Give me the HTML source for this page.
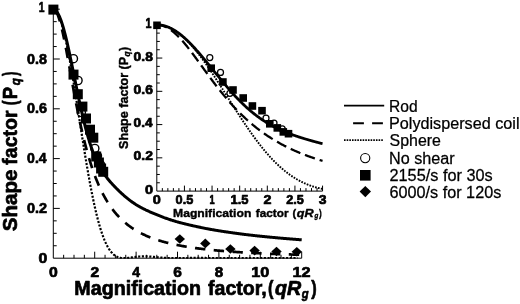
<!DOCTYPE html>
<html><head><meta charset="utf-8"><title>Shape factor</title>
<style>html,body{margin:0;padding:0;background:#fff}svg{display:block}</style></head>
<body>
<svg width="520" height="304" viewBox="0 0 520 304">
<rect width="520" height="304" fill="#fff"/>
<g stroke="#000" stroke-width="1" fill="none" stroke-linecap="butt">
<path d="M53.30,9.20 V258.20 H301.70"/>
<path d="M63.65,258.20v-3.4M74.00,258.20v-3.4M84.35,258.20v-3.4M94.70,258.20v-6.5M105.05,258.20v-3.4M115.40,258.20v-3.4M125.75,258.20v-3.4M136.10,258.20v-6.5M146.45,258.20v-3.4M156.80,258.20v-3.4M167.15,258.20v-3.4M177.50,258.20v-6.5M187.85,258.20v-3.4M198.20,258.20v-3.4M208.55,258.20v-3.4M218.90,258.20v-6.5M229.25,258.20v-3.4M239.60,258.20v-3.4M249.95,258.20v-3.4M260.30,258.20v-6.5M270.65,258.20v-3.4M281.00,258.20v-3.4M291.35,258.20v-3.4M301.70,258.20v-6.5M53.30,245.75h3.4M53.30,233.30h3.4M53.30,220.85h3.4M53.30,208.40h6.5M53.30,195.95h3.4M53.30,183.50h3.4M53.30,171.05h3.4M53.30,158.60h6.5M53.30,146.15h3.4M53.30,133.70h3.4M53.30,121.25h3.4M53.30,108.80h6.5M53.30,96.35h3.4M53.30,83.90h3.4M53.30,71.45h3.4M53.30,59.00h6.5M53.30,46.55h3.4M53.30,34.10h3.4M53.30,21.65h3.4M53.30,9.20h6.5"/>
</g>
<g stroke="#000" stroke-width="1" fill="none" stroke-linecap="butt">
<path d="M156.80,24.80 V191.10 H322.55"/>
<path d="M162.33,191.10v-3M167.85,191.10v-3M173.38,191.10v-3M178.90,191.10v-3M184.43,191.10v-5.5M189.95,191.10v-3M195.48,191.10v-3M201.00,191.10v-3M206.53,191.10v-3M212.05,191.10v-5.5M217.58,191.10v-3M223.10,191.10v-3M228.62,191.10v-3M234.15,191.10v-3M239.68,191.10v-5.5M245.20,191.10v-3M250.73,191.10v-3M256.25,191.10v-3M261.78,191.10v-3M267.30,191.10v-5.5M272.83,191.10v-3M278.35,191.10v-3M283.88,191.10v-3M289.40,191.10v-3M294.93,191.10v-5.5M300.45,191.10v-3M305.98,191.10v-3M311.50,191.10v-3M317.03,191.10v-3M322.55,191.10v-5.5M156.80,182.78h3M156.80,174.47h3M156.80,166.16h3M156.80,157.84h5.5M156.80,149.52h3M156.80,141.21h3M156.80,132.89h3M156.80,124.58h5.5M156.80,116.26h3M156.80,107.95h3M156.80,99.63h3M156.80,91.32h5.5M156.80,83.00h3M156.80,74.69h3M156.80,66.37h3M156.80,58.06h5.5M156.80,49.74h3M156.80,41.43h3M156.80,33.11h3M156.80,24.80h5.5"/>
</g>
<defs><clipPath id="cm"><rect x="51.3" y="0" width="250.89999999999998" height="258.7"/></clipPath><clipPath id="ci"><rect x="154.8" y="0" width="168.25" height="191.6"/></clipPath></defs>
<g fill="none" stroke="#000" clip-path="url(#cm)">
<path d="M53.00,9.20 L53.20,9.21 L53.41,9.23 L53.61,9.27 L53.82,9.33 L54.02,9.41 L54.22,9.50 L54.43,9.61 L54.63,9.73 L54.84,9.87 L55.04,10.03 L55.24,10.20 L55.45,10.39 L55.65,10.60 L55.86,10.82 L56.06,11.06 L56.27,11.32 L56.47,11.59 L56.67,11.88 L56.88,12.19 L57.08,12.51 L57.29,12.84 L57.49,13.20 L57.69,13.56 L57.90,13.95 L58.10,14.35 L58.31,14.77 L58.51,15.20 L58.71,15.65 L58.92,16.11 L59.12,16.59 L59.33,17.08 L59.53,17.59 L59.73,18.11 L59.94,18.65 L60.14,19.21 L60.35,19.78 L60.55,20.36 L60.75,20.96 L60.96,21.57 L61.16,22.20 L61.37,22.84 L61.57,23.50 L61.77,24.17 L61.98,24.86 L62.18,25.56 L62.39,26.27 L62.59,27.00 L62.80,27.74 L63.00,28.49 L63.20,29.26 L63.41,30.04 L63.61,30.83 L63.82,31.64 L64.02,32.46 L64.22,33.29 L64.43,34.13 L64.63,34.99 L64.84,35.86 L65.04,36.74 L65.24,37.63 L65.45,38.54 L65.65,39.46 L65.86,40.38 L66.06,41.32 L66.26,42.27 L66.47,43.24 L66.67,44.21 L66.88,45.19 L67.08,46.19 L67.28,47.19 L67.49,48.21 L67.69,49.23 L67.90,50.27 L68.10,51.32 L68.30,52.37 L68.51,53.43 L68.71,54.51 L68.92,55.59 L69.12,56.68 L69.33,57.78 L69.53,58.89 L69.73,60.01 L69.94,61.14 L70.14,62.27 L70.35,63.41 L70.55,64.56 L70.75,65.72 L70.96,66.88 L71.16,68.06 L71.37,69.24 L71.57,70.42 L71.77,71.61 L71.98,72.81 L72.18,74.02 L72.39,75.23 L72.59,76.45 L72.79,77.67 L73.00,78.90 L73.20,80.13 L73.41,81.37 L73.61,82.62 L73.81,83.86 L74.02,85.12 L74.22,86.38 L74.43,87.64 L74.63,88.91 L74.83,90.18 L75.04,91.45 L75.24,92.73 L75.45,94.01 L75.65,95.29 L75.86,96.58 L76.06,97.87 L76.26,99.16 L76.47,100.46 L76.67,101.75 L76.88,103.05 L77.08,104.36 L77.28,105.66 L77.49,106.96 L77.69,108.27 L77.90,109.58 L78.10,110.88 L78.30,112.19 L78.51,113.50 L78.71,114.81 L78.92,116.12 L79.12,117.43 L79.32,118.74 L79.53,120.05 L79.73,121.36 L79.94,122.67 L80.14,123.98 L80.34,125.29 L80.55,126.59 L80.75,127.90 L80.96,129.20 L81.16,130.51 L81.37,131.81 L81.57,133.11 L81.77,134.40 L81.98,135.70 L82.18,136.99 L82.39,138.28 L82.59,139.57 L82.79,140.85 L83.00,142.13 L83.20,143.41 L83.41,144.68 L83.61,145.95 L83.81,147.22 L84.02,148.49 L84.22,149.75 L84.43,151.00 L84.63,152.26 L84.83,153.50 L85.04,154.75 L85.24,155.99 L85.45,157.22 L85.65,158.45 L85.85,159.67 L86.06,160.89 L86.26,162.11 L86.47,163.32 L86.67,164.52 L86.87,165.72 L87.08,166.91 L87.28,168.10 L87.49,169.28 L87.69,170.45 L87.90,171.62 L88.10,172.78 L88.30,173.94 L88.51,175.09 L88.71,176.23 L88.92,177.37 L89.12,178.50 L89.32,179.62 L89.53,180.74 L89.73,181.85 L89.94,182.95 L90.14,184.05 L90.34,185.13 L90.55,186.21 L90.75,187.29 L90.96,188.35 L91.16,189.41 L91.36,190.46 L91.57,191.50 L91.77,192.54 L91.98,193.57 L92.18,194.58 L92.38,195.60 L92.59,196.60 L92.79,197.59 L93.00,198.58 L93.20,199.56 L93.40,200.53 L93.61,201.49 L93.81,202.44 L94.02,203.39 L94.22,204.32 L94.43,205.25 L94.63,206.17 L94.83,207.08 L95.04,207.98 L95.24,208.88 L95.45,209.76 L95.65,210.64 L95.85,211.50 L96.06,212.36 L96.26,213.21 L96.47,214.05 L96.67,214.88 L96.87,215.71 L97.08,216.52 L97.28,217.33 L97.49,218.12 L97.69,218.91 L97.89,219.69 L98.10,220.46 L98.30,221.22 L98.51,221.97 L98.71,222.71 L98.91,223.44 L99.12,224.17 L99.32,224.88 L99.53,225.59 L99.73,226.29 L99.93,226.97 L100.14,227.65 L100.34,228.32 L100.55,228.98 L100.75,229.64 L100.96,230.28 L101.16,230.92 L101.36,231.54 L101.57,232.16 L101.77,232.77 L101.98,233.37 L102.18,233.96 L102.38,234.54 L102.59,235.11 L102.79,235.68 L103.00,236.23 L103.20,236.78 L103.40,237.32 L103.61,237.85 L103.81,238.37 L104.02,238.88 L104.22,239.39 L104.42,239.89 L104.63,240.37 L104.83,240.85 L105.04,241.33 L105.24,241.79 L105.44,242.25 L105.65,242.69 L105.85,243.13 L106.06,243.56 L106.26,243.99 L106.47,244.40 L106.67,244.81 L106.87,245.21 L107.08,245.60 L107.28,245.99 L107.49,246.36 L107.69,246.73 L107.89,247.10 L108.10,247.45 L108.30,247.80 L108.51,248.14 L108.71,248.47 L108.91,248.80 L109.12,249.11 L109.32,249.43 L109.53,249.73 L109.73,250.03 L109.93,250.32 L110.14,250.60 L110.34,250.88 L110.55,251.15 L110.75,251.42 L110.95,251.67 L111.16,251.93 L111.36,252.17 L111.57,252.41 L111.77,252.64 L111.97,252.87 L112.18,253.09 L112.38,253.31 L112.59,253.51 L112.79,253.72 L113.00,253.92 L113.20,254.11 L113.40,254.29 L113.61,254.47 L113.81,254.65 L114.02,254.82 L114.22,254.98 L114.42,255.14 L114.63,255.30 L114.83,255.45 L115.04,255.59 L115.24,255.73 L115.44,255.87 L115.65,256.00 L115.85,256.12 L116.06,256.24 L116.26,256.36 L116.46,256.47 L116.67,256.58 L116.87,256.68 L117.08,256.78 L117.28,256.88 L117.48,256.97 L117.69,257.06 L117.89,257.14 L118.10,257.22 L118.30,257.29 L118.50,257.37 L118.71,257.44 L118.91,257.50 L119.12,257.56 L119.32,257.62 L119.53,257.68 L119.73,257.73 L119.93,257.78 L120.14,257.82 L120.34,257.86 L120.55,257.90 L120.75,257.94 L120.95,257.98 L121.16,258.01 L121.36,258.04 L121.57,258.06 L121.77,258.09 L121.97,258.11 L122.18,258.13 L122.38,258.14 L122.59,258.16 L122.79,258.17 L122.99,258.18 L123.20,258.19 L123.40,258.19 L123.61,258.20 L123.81,258.20 L124.01,258.20 L124.22,258.20 L124.42,258.20 L124.63,258.19 L124.83,258.19 L125.03,258.18 L125.24,258.17 L125.44,258.16 L125.65,258.15 L125.85,258.13 L126.06,258.12 L126.26,258.10 L126.46,258.09 L126.67,258.07 L126.87,258.05 L127.08,258.03 L127.28,258.01 L127.48,257.99 L127.69,257.97 L127.89,257.94 L128.10,257.92 L128.30,257.90 L128.50,257.87 L128.71,257.85 L128.91,257.82 L129.12,257.79 L129.32,257.77 L129.52,257.74 L129.73,257.71 L129.93,257.68 L130.14,257.65 L130.34,257.62 L130.54,257.60 L130.75,257.57 L130.95,257.54 L131.16,257.51 L131.36,257.48 L131.57,257.45 L131.77,257.42 L131.97,257.39 L132.18,257.36 L132.38,257.33 L132.59,257.30 L132.79,257.27 L132.99,257.24 L133.20,257.21 L133.40,257.18 L133.61,257.15 L133.81,257.13 L134.01,257.10 L134.22,257.07 L134.42,257.04 L134.63,257.02 L134.83,256.99 L135.03,256.96 L135.24,256.94 L135.44,256.91 L135.65,256.89 L135.85,256.86 L136.05,256.84 L136.26,256.81 L136.46,256.79 L136.67,256.77 L136.87,256.74 L137.07,256.72 L137.28,256.70 L137.48,256.68 L137.69,256.66 L137.89,256.64 L138.10,256.62 L138.30,256.60 L138.50,256.59 L138.71,256.57 L138.91,256.55 L139.12,256.54 L139.32,256.52 L139.52,256.51 L139.73,256.49 L139.93,256.48 L140.14,256.47 L140.34,256.46 L140.54,256.44 L140.75,256.43 L140.95,256.42 L141.16,256.41 L141.36,256.41 L141.56,256.40 L141.77,256.39 L141.97,256.38 L142.18,256.38 L142.38,256.37 L142.58,256.37 L142.79,256.36 L142.99,256.36 L143.20,256.36 L143.40,256.35 L143.60,256.35 L143.81,256.35 L144.01,256.35 L144.22,256.35 L144.42,256.35 L144.63,256.35 L144.83,256.36 L145.03,256.36 L145.24,256.36 L145.44,256.37 L145.65,256.37 L145.85,256.37 L146.05,256.38 L146.26,256.39 L146.46,256.39 L146.67,256.40 L146.87,256.41 L147.07,256.42 L147.28,256.42 L147.48,256.43 L147.69,256.44 L147.89,256.45 L148.09,256.46 L148.30,256.48 L148.50,256.49 L148.71,256.50 L148.91,256.51 L149.11,256.52 L149.32,256.54 L149.52,256.55 L149.73,256.56 L149.93,256.58 L150.13,256.59 L150.34,256.61 L150.54,256.62 L150.75,256.64 L150.95,256.66 L151.16,256.67 L151.36,256.69 L151.56,256.71 L151.77,256.72 L151.97,256.74 L152.18,256.76 L152.38,256.77 L152.58,256.79 L152.79,256.81 L152.99,256.83 L153.20,256.85 L153.40,256.87 L153.60,256.89 L153.81,256.90 L154.01,256.92 L154.22,256.94 L154.42,256.96 L154.62,256.98 L154.83,257.00 L155.03,257.02 L155.24,257.04 L155.44,257.06 L155.64,257.08 L155.85,257.10 L156.05,257.12 L156.26,257.14 L156.46,257.16 L156.67,257.18 L156.87,257.20 L157.07,257.22 L157.28,257.24 L157.48,257.26 L157.69,257.28 L157.89,257.30 L158.09,257.32 L158.30,257.34 L158.50,257.36 L158.71,257.38 L158.91,257.40 L159.11,257.42 L159.32,257.44 L159.52,257.46 L159.73,257.47 L159.93,257.49 L160.13,257.51 L160.34,257.53 L160.54,257.55 L160.75,257.57 L160.95,257.58 L161.15,257.60 L161.36,257.62 L161.56,257.64 L161.77,257.65 L161.97,257.67 L162.17,257.69 L162.38,257.70 L162.58,257.72 L162.79,257.74 L162.99,257.75 L163.20,257.77 L163.40,257.78 L163.60,257.80 L163.81,257.81 L164.01,257.83 L164.22,257.84 L164.42,257.85 L164.62,257.87 L164.83,257.88 L165.03,257.89 L165.24,257.91 L165.44,257.92 L165.64,257.93 L165.85,257.94 L166.05,257.96 L166.26,257.97 L166.46,257.98 L166.66,257.99 L166.87,258.00 L167.07,258.01 L167.28,258.02 L167.48,258.03 L167.68,258.04 L167.89,258.05 L168.09,258.06 L168.30,258.07 L168.50,258.08 L168.70,258.08 L168.91,258.09 L169.11,258.10 L169.32,258.11 L169.52,258.11 L169.73,258.12 L169.93,258.13 L170.13,258.13 L170.34,258.14 L170.54,258.14 L170.75,258.15 L170.95,258.15 L171.15,258.16 L171.36,258.16 L171.56,258.17 L171.77,258.17 L171.97,258.17 L172.17,258.18 L172.38,258.18 L172.58,258.18 L172.79,258.19 L172.99,258.19 L173.19,258.19 L173.40,258.19 L173.60,258.19 L173.81,258.20 L174.01,258.20 L174.21,258.20 L174.42,258.20 L174.62,258.20 L174.83,258.20 L175.03,258.20 L175.23,258.20 L175.44,258.20 L175.64,258.20 L175.85,258.20 L176.05,258.20 L176.26,258.20 L176.46,258.20 L176.66,258.19 L176.87,258.19 L177.07,258.19 L177.28,258.19 L177.48,258.19 L177.68,258.18 L177.89,258.18 L178.09,258.18 L178.30,258.18 L178.50,258.17 L178.70,258.17 L178.91,258.17 L179.11,258.16 L179.32,258.16 L179.52,258.16 L179.72,258.15 L179.93,258.15 L180.13,258.15 L180.34,258.14 L180.54,258.14 L180.74,258.13 L180.95,258.13 L181.15,258.13 L181.36,258.12 L181.56,258.12 L181.77,258.11 L181.97,258.11 L182.17,258.11 L182.38,258.10 L182.58,258.10 L182.79,258.09 L182.99,258.09 L183.19,258.08 L183.40,258.08 L183.60,258.07 L183.81,258.07 L184.01,258.06 L184.21,258.06 L184.42,258.05 L184.62,258.05 L184.83,258.05 L185.03,258.04 L185.23,258.04 L185.44,258.03 L185.64,258.03 L185.85,258.02 L186.05,258.02 L186.25,258.01 L186.46,258.01 L186.66,258.00 L186.87,258.00 L187.07,258.00 L187.27,257.99 L187.48,257.99 L187.68,257.98 L187.89,257.98 L188.09,257.97 L188.30,257.97 L188.50,257.97 L188.70,257.96 L188.91,257.96 L189.11,257.96 L189.32,257.95 L189.52,257.95 L189.72,257.94 L189.93,257.94 L190.13,257.94 L190.34,257.93 L190.54,257.93 L190.74,257.93 L190.95,257.93 L191.15,257.92 L191.36,257.92 L191.56,257.92 L191.76,257.91 L191.97,257.91 L192.17,257.91 L192.38,257.91 L192.58,257.91 L192.78,257.90 L192.99,257.90 L193.19,257.90 L193.40,257.90 L193.60,257.90 L193.80,257.89 L194.01,257.89 L194.21,257.89 L194.42,257.89 L194.62,257.89 L194.83,257.89 L195.03,257.89 L195.23,257.89 L195.44,257.89 L195.64,257.89 L195.85,257.89 L196.05,257.88 L196.25,257.88 L196.46,257.88 L196.66,257.88 L196.87,257.88 L197.07,257.88 L197.27,257.88 L197.48,257.89 L197.68,257.89 L197.89,257.89 L198.09,257.89 L198.29,257.89 L198.50,257.89 L198.70,257.89 L198.91,257.89 L199.11,257.89 L199.31,257.89 L199.52,257.89 L199.72,257.90 L199.93,257.90 L200.13,257.90 L200.33,257.90 L200.54,257.90 L200.74,257.90 L200.95,257.91 L201.15,257.91 L201.36,257.91 L201.56,257.91 L201.76,257.91 L201.97,257.92 L202.17,257.92 L202.38,257.92 L202.58,257.92 L202.78,257.93 L202.99,257.93 L203.19,257.93 L203.40,257.94 L203.60,257.94 L203.80,257.94 L204.01,257.94 L204.21,257.95 L204.42,257.95 L204.62,257.95 L204.82,257.96 L205.03,257.96 L205.23,257.96 L205.44,257.97 L205.64,257.97 L205.84,257.97 L206.05,257.98 L206.25,257.98 L206.46,257.98 L206.66,257.99 L206.87,257.99 L207.07,257.99 L207.27,258.00 L207.48,258.00 L207.68,258.00 L207.89,258.01 L208.09,258.01 L208.29,258.02 L208.50,258.02 L208.70,258.02 L208.91,258.03 L209.11,258.03 L209.31,258.03 L209.52,258.04 L209.72,258.04 L209.93,258.04 L210.13,258.05 L210.33,258.05 L210.54,258.06 L210.74,258.06 L210.95,258.06 L211.15,258.07 L211.35,258.07 L211.56,258.07 L211.76,258.08 L211.97,258.08 L212.17,258.08 L212.37,258.09 L212.58,258.09 L212.78,258.09 L212.99,258.10 L213.19,258.10 L213.40,258.10 L213.60,258.11 L213.80,258.11 L214.01,258.11 L214.21,258.12 L214.42,258.12 L214.62,258.12 L214.82,258.12 L215.03,258.13 L215.23,258.13 L215.44,258.13 L215.64,258.14 L215.84,258.14 L216.05,258.14 L216.25,258.14 L216.46,258.15 L216.66,258.15 L216.86,258.15 L217.07,258.15 L217.27,258.16 L217.48,258.16 L217.68,258.16 L217.88,258.16 L218.09,258.16 L218.29,258.17 L218.50,258.17 L218.70,258.17 L218.90,258.17 L219.11,258.17 L219.31,258.18 L219.52,258.18 L219.72,258.18 L219.93,258.18 L220.13,258.18 L220.33,258.18 L220.54,258.19 L220.74,258.19 L220.95,258.19 L221.15,258.19 L221.35,258.19 L221.56,258.19 L221.76,258.19 L221.97,258.19 L222.17,258.19 L222.37,258.19 L222.58,258.20 L222.78,258.20 L222.99,258.20 L223.19,258.20 L223.39,258.20 L223.60,258.20 L223.80,258.20 L224.01,258.20 L224.21,258.20 L224.41,258.20 L224.62,258.20 L224.82,258.20 L225.03,258.20 L225.23,258.20 L225.43,258.20 L225.64,258.20 L225.84,258.20 L226.05,258.20 L226.25,258.20 L226.46,258.20 L226.66,258.20 L226.86,258.20 L227.07,258.20 L227.27,258.20 L227.48,258.20 L227.68,258.20 L227.88,258.20 L228.09,258.20 L228.29,258.19 L228.50,258.19 L228.70,258.19 L228.90,258.19 L229.11,258.19 L229.31,258.19 L229.52,258.19 L229.72,258.19 L229.92,258.19 L230.13,258.19 L230.33,258.19 L230.54,258.18 L230.74,258.18 L230.94,258.18 L231.15,258.18 L231.35,258.18 L231.56,258.18 L231.76,258.18 L231.97,258.18 L232.17,258.18 L232.37,258.17 L232.58,258.17 L232.78,258.17 L232.99,258.17 L233.19,258.17 L233.39,258.17 L233.60,258.17 L233.80,258.17 L234.01,258.16 L234.21,258.16 L234.41,258.16 L234.62,258.16 L234.82,258.16 L235.03,258.16 L235.23,258.16 L235.43,258.15 L235.64,258.15 L235.84,258.15 L236.05,258.15 L236.25,258.15 L236.45,258.15 L236.66,258.15 L236.86,258.15 L237.07,258.14 L237.27,258.14 L237.47,258.14 L237.68,258.14 L237.88,258.14 L238.09,258.14 L238.29,258.14 L238.50,258.13 L238.70,258.13 L238.90,258.13 L239.11,258.13 L239.31,258.13 L239.52,258.13 L239.72,258.13 L239.92,258.13 L240.13,258.13 L240.33,258.12 L240.54,258.12 L240.74,258.12 L240.94,258.12 L241.15,258.12 L241.35,258.12 L241.56,258.12 L241.76,258.12 L241.96,258.12 L242.17,258.12 L242.37,258.12 L242.58,258.11 L242.78,258.11 L242.98,258.11 L243.19,258.11 L243.39,258.11 L243.60,258.11 L243.80,258.11 L244.00,258.11 L244.21,258.11 L244.41,258.11 L244.62,258.11 L244.82,258.11 L245.03,258.11 L245.23,258.11 L245.43,258.11 L245.64,258.11 L245.84,258.11 L246.05,258.11 L246.25,258.11 L246.45,258.11 L246.66,258.11 L246.86,258.10 L247.07,258.10 L247.27,258.10 L247.47,258.10 L247.68,258.10 L247.88,258.10 L248.09,258.10 L248.29,258.10 L248.49,258.11 L248.70,258.11 L248.90,258.11 L249.11,258.11 L249.31,258.11 L249.51,258.11 L249.72,258.11 L249.92,258.11 L250.13,258.11 L250.33,258.11 L250.53,258.11 L250.74,258.11 L250.94,258.11 L251.15,258.11 L251.35,258.11 L251.56,258.11 L251.76,258.11 L251.96,258.11 L252.17,258.11 L252.37,258.11 L252.58,258.11 L252.78,258.11 L252.98,258.11 L253.19,258.12 L253.39,258.12 L253.60,258.12 L253.80,258.12 L254.00,258.12 L254.21,258.12 L254.41,258.12 L254.62,258.12 L254.82,258.12 L255.02,258.12 L255.23,258.12 L255.43,258.13 L255.64,258.13 L255.84,258.13 L256.04,258.13 L256.25,258.13 L256.45,258.13 L256.66,258.13 L256.86,258.13 L257.07,258.13 L257.27,258.13 L257.47,258.14 L257.68,258.14 L257.88,258.14 L258.09,258.14 L258.29,258.14 L258.49,258.14 L258.70,258.14 L258.90,258.14 L259.11,258.14 L259.31,258.15 L259.51,258.15 L259.72,258.15 L259.92,258.15 L260.13,258.15 L260.33,258.15 L260.53,258.15 L260.74,258.15 L260.94,258.15 L261.15,258.16 L261.35,258.16 L261.55,258.16 L261.76,258.16 L261.96,258.16 L262.17,258.16 L262.37,258.16 L262.57,258.16 L262.78,258.16 L262.98,258.17 L263.19,258.17 L263.39,258.17 L263.60,258.17 L263.80,258.17 L264.00,258.17 L264.21,258.17 L264.41,258.17 L264.62,258.17 L264.82,258.17 L265.02,258.18 L265.23,258.18 L265.43,258.18 L265.64,258.18 L265.84,258.18 L266.04,258.18 L266.25,258.18 L266.45,258.18 L266.66,258.18 L266.86,258.18 L267.06,258.18 L267.27,258.18 L267.47,258.19 L267.68,258.19 L267.88,258.19 L268.08,258.19 L268.29,258.19 L268.49,258.19 L268.70,258.19 L268.90,258.19 L269.10,258.19 L269.31,258.19 L269.51,258.19 L269.72,258.19 L269.92,258.19 L270.13,258.19 L270.33,258.19 L270.53,258.19 L270.74,258.20 L270.94,258.20 L271.15,258.20 L271.35,258.20 L271.55,258.20 L271.76,258.20 L271.96,258.20 L272.17,258.20 L272.37,258.20 L272.57,258.20 L272.78,258.20 L272.98,258.20 L273.19,258.20 L273.39,258.20 L273.59,258.20 L273.80,258.20 L274.00,258.20 L274.21,258.20 L274.41,258.20 L274.61,258.20 L274.82,258.20 L275.02,258.20 L275.23,258.20 L275.43,258.20 L275.63,258.20 L275.84,258.20 L276.04,258.20 L276.25,258.20 L276.45,258.20 L276.66,258.20 L276.86,258.20 L277.06,258.20 L277.27,258.20 L277.47,258.20 L277.68,258.20 L277.88,258.20 L278.08,258.20 L278.29,258.20 L278.49,258.20 L278.70,258.20 L278.90,258.20 L279.10,258.20 L279.31,258.20 L279.51,258.20 L279.72,258.20 L279.92,258.20 L280.12,258.20 L280.33,258.19 L280.53,258.19 L280.74,258.19 L280.94,258.19 L281.14,258.19 L281.35,258.19 L281.55,258.19 L281.76,258.19 L281.96,258.19 L282.17,258.19 L282.37,258.19 L282.57,258.19 L282.78,258.19 L282.98,258.19 L283.19,258.19 L283.39,258.19 L283.59,258.19 L283.80,258.19 L284.00,258.19 L284.21,258.19 L284.41,258.19 L284.61,258.18 L284.82,258.18 L285.02,258.18 L285.23,258.18 L285.43,258.18 L285.63,258.18 L285.84,258.18 L286.04,258.18 L286.25,258.18 L286.45,258.18 L286.65,258.18 L286.86,258.18 L287.06,258.18 L287.27,258.18 L287.47,258.18 L287.67,258.18 L287.88,258.18 L288.08,258.18 L288.29,258.18 L288.49,258.17 L288.70,258.17 L288.90,258.17 L289.10,258.17 L289.31,258.17 L289.51,258.17 L289.72,258.17 L289.92,258.17 L290.12,258.17 L290.33,258.17 L290.53,258.17 L290.74,258.17 L290.94,258.17 L291.14,258.17 L291.35,258.17 L291.55,258.17 L291.76,258.17 L291.96,258.17 L292.16,258.17 L292.37,258.17 L292.57,258.17 L292.78,258.17 L292.98,258.17 L293.18,258.17 L293.39,258.17 L293.59,258.16 L293.80,258.16 L294.00,258.16 L294.20,258.16 L294.41,258.16 L294.61,258.16 L294.82,258.16 L295.02,258.16 L295.23,258.16 L295.43,258.16 L295.63,258.16 L295.84,258.16 L296.04,258.16 L296.25,258.16 L296.45,258.16 L296.65,258.16 L296.86,258.16 L297.06,258.16 L297.27,258.16 L297.47,258.16 L297.67,258.16" stroke-width="2.2" stroke-dasharray="2.1 1.6"/>
<path d="M53.30,9.20 L53.92,9.31 L54.55,9.65 L55.17,10.21 L55.79,10.99 L56.41,11.98 L57.04,13.19 L57.66,14.60 L58.28,16.20 L58.90,18.00 L59.53,19.97 L60.15,22.12 L60.77,24.42 L61.39,26.88 L62.02,29.47 L62.64,32.20 L63.26,35.04 L63.88,37.98 L64.51,41.02 L65.13,44.15 L65.75,47.34 L66.37,50.60 L67.00,53.92 L67.62,57.27 L68.24,60.66 L68.86,64.07 L69.49,67.50 L70.11,70.94 L70.73,74.38 L71.35,77.81 L71.98,81.23 L72.60,84.63 L73.22,88.01 L73.84,91.37 L74.47,94.69 L75.09,97.97 L75.71,101.21 L76.33,104.41 L76.96,107.57 L77.58,110.68 L78.20,113.74 L78.82,116.74 L79.45,119.70 L80.07,122.60 L80.69,125.44 L81.32,128.23 L81.94,130.96 L82.56,133.64 L83.18,136.26 L83.81,138.83 L84.43,141.33 L85.05,143.79 L85.67,146.18 L86.30,148.53 L86.92,150.82 L87.54,153.05 L88.16,155.23 L88.79,157.37 L89.41,159.45 L90.03,161.48 L90.65,163.46 L91.28,165.39 L91.90,167.27 L92.52,169.11 L93.14,170.91 L93.77,172.66 L94.39,174.36 L95.01,176.03 L95.63,177.65 L96.26,179.23 L96.88,180.78 L97.50,182.28 L98.12,183.75 L98.75,185.18 L99.37,186.58 L99.99,187.94 L100.61,189.27 L101.24,190.56 L101.86,191.83 L102.48,193.06 L103.10,194.26 L103.73,195.44 L104.35,196.58 L104.97,197.70 L105.59,198.79 L106.22,199.85 L106.84,200.89 L107.46,201.91 L108.08,202.89 L108.71,203.86 L109.33,204.80 L109.95,205.73 L110.58,206.62 L111.20,207.50 L111.82,208.36 L112.44,209.20 L113.07,210.02 L113.69,210.82 L114.31,211.60 L114.93,212.37 L115.56,213.11 L116.18,213.84 L116.80,214.56 L117.42,215.25 L118.05,215.94 L118.67,216.60 L119.29,217.26 L119.91,217.90 L120.54,218.52 L121.16,219.13 L121.78,219.73 L122.40,220.31 L123.03,220.89 L123.65,221.45 L124.27,222.00 L124.89,222.53 L125.52,223.06 L126.14,223.57 L126.76,224.08 L127.38,224.57 L128.01,225.06 L128.63,225.53 L129.25,225.99 L129.87,226.45 L130.50,226.89 L131.12,227.33 L131.74,227.76 L132.36,228.18 L132.99,228.59 L133.61,229.00 L134.23,229.39 L134.85,229.78 L135.48,230.16 L136.10,230.53 L136.72,230.90 L137.35,231.26 L137.97,231.61 L138.59,231.96 L139.21,232.30 L139.84,232.63 L140.46,232.96 L141.08,233.28 L141.70,233.59 L142.33,233.90 L142.95,234.21 L143.57,234.51 L144.19,234.80 L144.82,235.09 L145.44,235.37 L146.06,235.65 L146.68,235.92 L147.31,236.19 L147.93,236.45 L148.55,236.71 L149.17,236.96 L149.80,237.21 L150.42,237.46 L151.04,237.70 L151.66,237.94 L152.29,238.17 L152.91,238.40 L153.53,238.63 L154.15,238.85 L154.78,239.07 L155.40,239.28 L156.02,239.50 L156.64,239.70 L157.27,239.91 L157.89,240.11 L158.51,240.31 L159.13,240.50 L159.76,240.69 L160.38,240.88 L161.00,241.07 L161.62,241.25 L162.25,241.43 L162.87,241.61 L163.49,241.78 L164.12,241.96 L164.74,242.13 L165.36,242.29 L165.98,242.46 L166.61,242.62 L167.23,242.78 L167.85,242.93 L168.47,243.09 L169.10,243.24 L169.72,243.39 L170.34,243.54 L170.96,243.69 L171.59,243.83 L172.21,243.97 L172.83,244.11 L173.45,244.25 L174.08,244.38 L174.70,244.52 L175.32,244.65 L175.94,244.78 L176.57,244.91 L177.19,245.03 L177.81,245.16 L178.43,245.28 L179.06,245.40 L179.68,245.52 L180.30,245.64 L180.92,245.75 L181.55,245.87 L182.17,245.98 L182.79,246.09 L183.41,246.20 L184.04,246.31 L184.66,246.42 L185.28,246.52 L185.90,246.63 L186.53,246.73 L187.15,246.83 L187.77,246.93 L188.39,247.03 L189.02,247.13 L189.64,247.23 L190.26,247.32 L190.88,247.42 L191.51,247.51 L192.13,247.60 L192.75,247.69 L193.38,247.78 L194.00,247.87 L194.62,247.95 L195.24,248.04 L195.87,248.13 L196.49,248.21 L197.11,248.29 L197.73,248.37 L198.36,248.46 L198.98,248.54 L199.60,248.61 L200.22,248.69 L200.85,248.77 L201.47,248.85 L202.09,248.92 L202.71,248.99 L203.34,249.07 L203.96,249.14 L204.58,249.21 L205.20,249.28 L205.83,249.35 L206.45,249.42 L207.07,249.49 L207.69,249.56 L208.32,249.63 L208.94,249.69 L209.56,249.76 L210.18,249.82 L210.81,249.89 L211.43,249.95 L212.05,250.01 L212.67,250.07 L213.30,250.13 L213.92,250.19 L214.54,250.25 L215.16,250.31 L215.79,250.37 L216.41,250.43 L217.03,250.49 L217.65,250.54 L218.28,250.60 L218.90,250.65 L219.52,250.71 L220.15,250.76 L220.77,250.82 L221.39,250.87 L222.01,250.92 L222.64,250.97 L223.26,251.03 L223.88,251.08 L224.50,251.13 L225.13,251.18 L225.75,251.23 L226.37,251.27 L226.99,251.32 L227.62,251.37 L228.24,251.42 L228.86,251.46 L229.48,251.51 L230.11,251.56 L230.73,251.60 L231.35,251.65 L231.97,251.69 L232.60,251.73 L233.22,251.78 L233.84,251.82 L234.46,251.86 L235.09,251.91 L235.71,251.95 L236.33,251.99 L236.95,252.03 L237.58,252.07 L238.20,252.11 L238.82,252.15 L239.44,252.19 L240.07,252.23 L240.69,252.27 L241.31,252.31 L241.93,252.34 L242.56,252.38 L243.18,252.42 L243.80,252.46 L244.42,252.49 L245.05,252.53 L245.67,252.56 L246.29,252.60 L246.92,252.63 L247.54,252.67 L248.16,252.70 L248.78,252.74 L249.41,252.77 L250.03,252.81 L250.65,252.84 L251.27,252.87 L251.90,252.90 L252.52,252.94 L253.14,252.97 L253.76,253.00 L254.39,253.03 L255.01,253.06 L255.63,253.09 L256.25,253.13 L256.88,253.16 L257.50,253.19 L258.12,253.22 L258.74,253.24 L259.37,253.27 L259.99,253.30 L260.61,253.33 L261.23,253.36 L261.86,253.39 L262.48,253.42 L263.10,253.44 L263.72,253.47 L264.35,253.50 L264.97,253.53 L265.59,253.55 L266.21,253.58 L266.84,253.61 L267.46,253.63 L268.08,253.66 L268.70,253.68 L269.33,253.71 L269.95,253.74 L270.57,253.76 L271.19,253.79 L271.82,253.81 L272.44,253.83 L273.06,253.86 L273.68,253.88 L274.31,253.91 L274.93,253.93 L275.55,253.95 L276.18,253.98 L276.80,254.00 L277.42,254.02 L278.04,254.05 L278.67,254.07 L279.29,254.09 L279.91,254.11 L280.53,254.13 L281.16,254.16 L281.78,254.18 L282.40,254.20 L283.02,254.22 L283.65,254.24 L284.27,254.26 L284.89,254.28 L285.51,254.30 L286.14,254.33 L286.76,254.35 L287.38,254.37 L288.00,254.39 L288.63,254.41 L289.25,254.43 L289.87,254.44 L290.49,254.46 L291.12,254.48 L291.74,254.50 L292.36,254.52 L292.98,254.54 L293.61,254.56 L294.23,254.58 L294.85,254.60 L295.47,254.61 L296.10,254.63 L296.72,254.65 L297.34,254.67 L297.96,254.69 L298.59,254.70 L299.21,254.72 L299.83,254.74 L300.45,254.76 L301.08,254.77 L301.70,254.79" stroke-width="2.7" stroke-dasharray="10.4 8.4" stroke-dashoffset="14.90"/>
<path d="M53.30,9.35 L53.92,9.43 L54.55,9.65 L55.17,10.02 L55.79,10.55 L56.41,11.22 L57.04,12.03 L57.66,12.99 L58.28,14.09 L58.90,15.33 L59.53,16.70 L60.15,18.20 L60.77,19.83 L61.39,21.58 L62.02,23.46 L62.64,25.44 L63.26,27.54 L63.88,29.74 L64.51,32.04 L65.13,34.43 L65.75,36.91 L66.37,39.47 L67.00,42.11 L67.62,44.82 L68.24,47.59 L68.86,50.43 L69.49,53.31 L70.11,56.24 L70.73,59.20 L71.35,62.20 L71.98,65.23 L72.60,68.28 L73.22,71.34 L73.84,74.42 L74.47,77.49 L75.09,80.57 L75.71,83.64 L76.33,86.69 L76.96,89.73 L77.58,92.75 L78.20,95.74 L78.82,98.70 L79.45,101.63 L80.07,104.52 L80.69,107.36 L81.32,110.16 L81.94,112.92 L82.56,115.62 L83.18,118.27 L83.81,120.86 L84.43,123.40 L85.05,125.87 L85.67,128.29 L86.30,130.65 L86.92,132.94 L87.54,135.17 L88.16,137.34 L88.79,139.44 L89.41,141.48 L90.03,143.46 L90.65,145.37 L91.28,147.22 L91.90,149.01 L92.52,150.74 L93.14,152.41 L93.77,154.03 L94.39,155.59 L95.01,157.09 L95.63,158.54 L96.26,159.94 L96.88,161.28 L97.50,162.59 L98.12,163.84 L98.75,165.05 L99.37,166.22 L99.99,167.35 L100.61,168.44 L101.24,169.49 L101.86,170.51 L102.48,171.50 L103.10,172.46 L103.73,173.38 L104.35,174.29 L104.97,175.16 L105.59,176.02 L106.22,176.85 L106.84,177.66 L107.46,178.45 L108.08,179.23 L108.71,179.99 L109.33,180.73 L109.95,181.46 L110.58,182.18 L111.20,182.88 L111.82,183.58 L112.44,184.26 L113.07,184.93 L113.69,185.60 L114.31,186.25 L114.93,186.90 L115.56,187.54 L116.18,188.18 L116.80,188.80 L117.42,189.42 L118.05,190.04 L118.67,190.64 L119.29,191.24 L119.91,191.84 L120.54,192.42 L121.16,193.00 L121.78,193.58 L122.40,194.14 L123.03,194.70 L123.65,195.25 L124.27,195.80 L124.89,196.34 L125.52,196.87 L126.14,197.39 L126.76,197.91 L127.38,198.41 L128.01,198.91 L128.63,199.40 L129.25,199.89 L129.87,200.36 L130.50,200.83 L131.12,201.29 L131.74,201.74 L132.36,202.18 L132.99,202.61 L133.61,203.04 L134.23,203.45 L134.85,203.86 L135.48,204.26 L136.10,204.66 L136.72,205.04 L137.35,205.42 L137.97,205.79 L138.59,206.16 L139.21,206.51 L139.84,206.86 L140.46,207.21 L141.08,207.55 L141.70,207.88 L142.33,208.21 L142.95,208.53 L143.57,208.84 L144.19,209.16 L144.82,209.46 L145.44,209.77 L146.06,210.06 L146.68,210.36 L147.31,210.65 L147.93,210.94 L148.55,211.22 L149.17,211.50 L149.80,211.78 L150.42,212.06 L151.04,212.33 L151.66,212.60 L152.29,212.87 L152.91,213.14 L153.53,213.40 L154.15,213.66 L154.78,213.92 L155.40,214.18 L156.02,214.43 L156.64,214.69 L157.27,214.94 L157.89,215.19 L158.51,215.44 L159.13,215.69 L159.76,215.93 L160.38,216.17 L161.00,216.41 L161.62,216.65 L162.25,216.89 L162.87,217.12 L163.49,217.36 L164.12,217.58 L164.74,217.81 L165.36,218.04 L165.98,218.26 L166.61,218.48 L167.23,218.70 L167.85,218.91 L168.47,219.13 L169.10,219.34 L169.72,219.54 L170.34,219.75 L170.96,219.95 L171.59,220.15 L172.21,220.35 L172.83,220.54 L173.45,220.73 L174.08,220.92 L174.70,221.11 L175.32,221.29 L175.94,221.48 L176.57,221.65 L177.19,221.83 L177.81,222.01 L178.43,222.18 L179.06,222.35 L179.68,222.52 L180.30,222.68 L180.92,222.85 L181.55,223.01 L182.17,223.17 L182.79,223.33 L183.41,223.49 L184.04,223.65 L184.66,223.80 L185.28,223.95 L185.90,224.11 L186.53,224.26 L187.15,224.41 L187.77,224.55 L188.39,224.70 L189.02,224.85 L189.64,224.99 L190.26,225.14 L190.88,225.28 L191.51,225.42 L192.13,225.57 L192.75,225.71 L193.38,225.85 L194.00,225.99 L194.62,226.13 L195.24,226.26 L195.87,226.40 L196.49,226.54 L197.11,226.67 L197.73,226.81 L198.36,226.94 L198.98,227.08 L199.60,227.21 L200.22,227.34 L200.85,227.47 L201.47,227.60 L202.09,227.73 L202.71,227.85 L203.34,227.98 L203.96,228.11 L204.58,228.23 L205.20,228.35 L205.83,228.48 L206.45,228.60 L207.07,228.72 L207.69,228.84 L208.32,228.95 L208.94,229.07 L209.56,229.19 L210.18,229.30 L210.81,229.41 L211.43,229.53 L212.05,229.64 L212.67,229.75 L213.30,229.85 L213.92,229.96 L214.54,230.07 L215.16,230.17 L215.79,230.28 L216.41,230.38 L217.03,230.48 L217.65,230.58 L218.28,230.69 L218.90,230.78 L219.52,230.88 L220.15,230.98 L220.77,231.08 L221.39,231.18 L222.01,231.27 L222.64,231.37 L223.26,231.46 L223.88,231.55 L224.50,231.65 L225.13,231.74 L225.75,231.83 L226.37,231.92 L226.99,232.01 L227.62,232.10 L228.24,232.19 L228.86,232.28 L229.48,232.37 L230.11,232.46 L230.73,232.55 L231.35,232.64 L231.97,232.73 L232.60,232.81 L233.22,232.90 L233.84,232.99 L234.46,233.07 L235.09,233.16 L235.71,233.24 L236.33,233.33 L236.95,233.41 L237.58,233.50 L238.20,233.58 L238.82,233.66 L239.44,233.75 L240.07,233.83 L240.69,233.91 L241.31,233.99 L241.93,234.07 L242.56,234.15 L243.18,234.23 L243.80,234.31 L244.42,234.39 L245.05,234.46 L245.67,234.54 L246.29,234.62 L246.92,234.69 L247.54,234.77 L248.16,234.84 L248.78,234.92 L249.41,234.99 L250.03,235.06 L250.65,235.13 L251.27,235.21 L251.90,235.28 L252.52,235.35 L253.14,235.42 L253.76,235.49 L254.39,235.55 L255.01,235.62 L255.63,235.69 L256.25,235.76 L256.88,235.82 L257.50,235.89 L258.12,235.96 L258.74,236.02 L259.37,236.09 L259.99,236.15 L260.61,236.21 L261.23,236.28 L261.86,236.34 L262.48,236.41 L263.10,236.47 L263.72,236.53 L264.35,236.59 L264.97,236.66 L265.59,236.72 L266.21,236.78 L266.84,236.84 L267.46,236.90 L268.08,236.96 L268.70,237.02 L269.33,237.08 L269.95,237.14 L270.57,237.20 L271.19,237.26 L271.82,237.32 L272.44,237.38 L273.06,237.44 L273.68,237.50 L274.31,237.56 L274.93,237.61 L275.55,237.67 L276.18,237.73 L276.80,237.79 L277.42,237.84 L278.04,237.90 L278.67,237.96 L279.29,238.01 L279.91,238.07 L280.53,238.13 L281.16,238.18 L281.78,238.24 L282.40,238.29 L283.02,238.34 L283.65,238.40 L284.27,238.45 L284.89,238.50 L285.51,238.56 L286.14,238.61 L286.76,238.66 L287.38,238.71 L288.00,238.76 L288.63,238.82 L289.25,238.87 L289.87,238.92 L290.49,238.97 L291.12,239.02 L291.74,239.07 L292.36,239.11 L292.98,239.16 L293.61,239.21 L294.23,239.26 L294.85,239.31 L295.47,239.35 L296.10,239.40 L296.72,239.45 L297.34,239.49 L297.96,239.54 L298.59,239.59 L299.21,239.63 L299.83,239.68 L300.45,239.72 L301.08,239.77 L301.70,239.82" stroke-width="3.0"/>
</g>
<g fill="none" stroke="#000" clip-path="url(#ci)">
<path d="M156.80,24.80 L157.22,24.80 L157.63,24.81 L158.05,24.83 L158.46,24.85 L158.88,24.88 L159.29,24.91 L159.71,24.95 L160.12,25.00 L160.54,25.05 L160.95,25.11 L161.37,25.18 L161.78,25.25 L162.20,25.33 L162.62,25.41 L163.03,25.50 L163.45,25.60 L163.86,25.70 L164.28,25.81 L164.69,25.93 L165.11,26.05 L165.52,26.18 L165.94,26.31 L166.35,26.45 L166.77,26.60 L167.19,26.75 L167.60,26.91 L168.02,27.07 L168.43,27.24 L168.85,27.42 L169.26,27.60 L169.68,27.79 L170.09,27.98 L170.51,28.18 L170.92,28.39 L171.34,28.60 L171.75,28.82 L172.17,29.04 L172.59,29.27 L173.00,29.51 L173.42,29.75 L173.83,30.00 L174.25,30.25 L174.66,30.51 L175.08,30.77 L175.49,31.04 L175.91,31.32 L176.32,31.60 L176.74,31.89 L177.16,32.18 L177.57,32.48 L177.99,32.78 L178.40,33.09 L178.82,33.41 L179.23,33.73 L179.65,34.05 L180.06,34.38 L180.48,34.72 L180.89,35.06 L181.31,35.41 L181.72,35.76 L182.14,36.12 L182.56,36.48 L182.97,36.85 L183.39,37.22 L183.80,37.60 L184.22,37.98 L184.63,38.37 L185.05,38.76 L185.46,39.16 L185.88,39.56 L186.29,39.97 L186.71,40.38 L187.13,40.80 L187.54,41.22 L187.96,41.65 L188.37,42.08 L188.79,42.51 L189.20,42.96 L189.62,43.40 L190.03,43.85 L190.45,44.30 L190.86,44.76 L191.28,45.23 L191.69,45.69 L192.11,46.16 L192.53,46.64 L192.94,47.12 L193.36,47.60 L193.77,48.09 L194.19,48.58 L194.60,49.08 L195.02,49.58 L195.43,50.09 L195.85,50.59 L196.26,51.11 L196.68,51.62 L197.10,52.14 L197.51,52.66 L197.93,53.19 L198.34,53.72 L198.76,54.26 L199.17,54.79 L199.59,55.33 L200.00,55.88 L200.42,56.43 L200.83,56.98 L201.25,57.53 L201.66,58.09 L202.08,58.65 L202.50,59.21 L202.91,59.78 L203.33,60.35 L203.74,60.92 L204.16,61.50 L204.57,62.08 L204.99,62.66 L205.40,63.25 L205.82,63.83 L206.23,64.42 L206.65,65.01 L207.07,65.61 L207.48,66.21 L207.90,66.81 L208.31,67.41 L208.73,68.01 L209.14,68.62 L209.56,69.23 L209.97,69.84 L210.39,70.46 L210.80,71.07 L211.22,71.69 L211.63,72.31 L212.05,72.93 L212.47,73.56 L212.88,74.18 L213.30,74.81 L213.71,75.44 L214.13,76.07 L214.54,76.70 L214.96,77.34 L215.37,77.97 L215.79,78.61 L216.20,79.25 L216.62,79.89 L217.03,80.53 L217.45,81.17 L217.87,81.81 L218.28,82.46 L218.70,83.10 L219.11,83.75 L219.53,84.40 L219.94,85.05 L220.36,85.70 L220.77,86.35 L221.19,87.00 L221.60,87.65 L222.02,88.31 L222.44,88.96 L222.85,89.61 L223.27,90.27 L223.68,90.92 L224.10,91.58 L224.51,92.23 L224.93,92.89 L225.34,93.55 L225.76,94.20 L226.17,94.86 L226.59,95.52 L227.00,96.18 L227.42,96.83 L227.84,97.49 L228.25,98.15 L228.67,98.81 L229.08,99.46 L229.50,100.12 L229.91,100.78 L230.33,101.43 L230.74,102.09 L231.16,102.75 L231.57,103.40 L231.99,104.06 L232.41,104.71 L232.82,105.36 L233.24,106.02 L233.65,106.67 L234.07,107.32 L234.48,107.97 L234.90,108.62 L235.31,109.27 L235.73,109.92 L236.14,110.57 L236.56,111.21 L236.97,111.86 L237.39,112.50 L237.81,113.15 L238.22,113.79 L238.64,114.43 L239.05,115.07 L239.47,115.71 L239.88,116.35 L240.30,116.98 L240.71,117.62 L241.13,118.25 L241.54,118.88 L241.96,119.51 L242.38,120.14 L242.79,120.77 L243.21,121.39 L243.62,122.02 L244.04,122.64 L244.45,123.26 L244.87,123.88 L245.28,124.49 L245.70,125.11 L246.11,125.72 L246.53,126.33 L246.94,126.94 L247.36,127.55 L247.78,128.15 L248.19,128.76 L248.61,129.36 L249.02,129.95 L249.44,130.55 L249.85,131.15 L250.27,131.74 L250.68,132.33 L251.10,132.91 L251.51,133.50 L251.93,134.08 L252.35,134.66 L252.76,135.24 L253.18,135.82 L253.59,136.39 L254.01,136.96 L254.42,137.53 L254.84,138.09 L255.25,138.66 L255.67,139.22 L256.08,139.77 L256.50,140.33 L256.91,140.88 L257.33,141.43 L257.75,141.98 L258.16,142.52 L258.58,143.06 L258.99,143.60 L259.41,144.14 L259.82,144.67 L260.24,145.20 L260.65,145.73 L261.07,146.25 L261.48,146.77 L261.90,147.29 L262.32,147.81 L262.73,148.32 L263.15,148.83 L263.56,149.34 L263.98,149.84 L264.39,150.34 L264.81,150.84 L265.22,151.33 L265.64,151.82 L266.05,152.31 L266.47,152.80 L266.88,153.28 L267.30,153.76 L267.72,154.23 L268.13,154.70 L268.55,155.17 L268.96,155.64 L269.38,156.10 L269.79,156.56 L270.21,157.02 L270.62,157.47 L271.04,157.92 L271.45,158.36 L271.87,158.81 L272.28,159.25 L272.70,159.68 L273.12,160.12 L273.53,160.54 L273.95,160.97 L274.36,161.39 L274.78,161.81 L275.19,162.23 L275.61,162.64 L276.02,163.05 L276.44,163.46 L276.85,163.86 L277.27,164.26 L277.69,164.66 L278.10,165.05 L278.52,165.44 L278.93,165.82 L279.35,166.21 L279.76,166.59 L280.18,166.96 L280.59,167.33 L281.01,167.70 L281.42,168.07 L281.84,168.43 L282.25,168.79 L282.67,169.15 L283.09,169.50 L283.50,169.85 L283.92,170.19 L284.33,170.53 L284.75,170.87 L285.16,171.21 L285.58,171.54 L285.99,171.87 L286.41,172.19 L286.82,172.51 L287.24,172.83 L287.66,173.15 L288.07,173.46 L288.49,173.77 L288.90,174.07 L289.32,174.37 L289.73,174.67 L290.15,174.97 L290.56,175.26 L290.98,175.55 L291.39,175.83 L291.81,176.12 L292.22,176.39 L292.64,176.67 L293.06,176.94 L293.47,177.21 L293.89,177.48 L294.30,177.74 L294.72,178.00 L295.13,178.26 L295.55,178.51 L295.96,178.76 L296.38,179.01 L296.79,179.25 L297.21,179.49 L297.63,179.73 L298.04,179.96 L298.46,180.19 L298.87,180.42 L299.29,180.65 L299.70,180.87 L300.12,181.09 L300.53,181.31 L300.95,181.52 L301.36,181.73 L301.78,181.94 L302.19,182.14 L302.61,182.34 L303.03,182.54 L303.44,182.74 L303.86,182.93 L304.27,183.12 L304.69,183.31 L305.10,183.49 L305.52,183.67 L305.93,183.85 L306.35,184.03 L306.76,184.20 L307.18,184.37 L307.60,184.54 L308.01,184.70 L308.43,184.86 L308.84,185.02 L309.26,185.18 L309.67,185.33 L310.09,185.49 L310.50,185.64 L310.92,185.78 L311.33,185.93 L311.75,186.07 L312.16,186.21 L312.58,186.34 L313.00,186.48 L313.41,186.61 L313.83,186.74 L314.24,186.86 L314.66,186.99 L315.07,187.11 L315.49,187.23 L315.90,187.35 L316.32,187.46 L316.73,187.57 L317.15,187.69 L317.57,187.79 L317.98,187.90 L318.40,188.00 L318.81,188.10 L319.23,188.20 L319.64,188.30 L320.06,188.40 L320.47,188.49 L320.89,188.58 L321.30,188.67 L321.72,188.76 L322.13,188.84 L322.55,188.93" stroke-width="1.9" stroke-dasharray="1.7 1.25"/>
<path d="M156.80,24.80 L157.22,24.80 L157.63,24.82 L158.05,24.84 L158.46,24.88 L158.88,24.92 L159.29,24.97 L159.71,25.03 L160.12,25.10 L160.54,25.18 L160.95,25.27 L161.37,25.37 L161.78,25.47 L162.20,25.59 L162.62,25.72 L163.03,25.85 L163.45,25.99 L163.86,26.15 L164.28,26.31 L164.69,26.48 L165.11,26.66 L165.52,26.85 L165.94,27.04 L166.35,27.25 L166.77,27.46 L167.19,27.69 L167.60,27.92 L168.02,28.16 L168.43,28.41 L168.85,28.66 L169.26,28.93 L169.68,29.20 L170.09,29.48 L170.51,29.77 L170.92,30.06 L171.34,30.37 L171.75,30.68 L172.17,31.00 L172.59,31.32 L173.00,31.65 L173.42,32.00 L173.83,32.34 L174.25,32.70 L174.66,33.06 L175.08,33.43 L175.49,33.80 L175.91,34.19 L176.32,34.57 L176.74,34.97 L177.16,35.37 L177.57,35.78 L177.99,36.19 L178.40,36.61 L178.82,37.03 L179.23,37.46 L179.65,37.90 L180.06,38.34 L180.48,38.79 L180.89,39.24 L181.31,39.70 L181.72,40.16 L182.14,40.63 L182.56,41.10 L182.97,41.57 L183.39,42.06 L183.80,42.54 L184.22,43.03 L184.63,43.53 L185.05,44.02 L185.46,44.53 L185.88,45.03 L186.29,45.54 L186.71,46.05 L187.13,46.57 L187.54,47.09 L187.96,47.61 L188.37,48.14 L188.79,48.67 L189.20,49.20 L189.62,49.74 L190.03,50.28 L190.45,50.82 L190.86,51.36 L191.28,51.90 L191.69,52.45 L192.11,53.00 L192.53,53.55 L192.94,54.11 L193.36,54.66 L193.77,55.22 L194.19,55.78 L194.60,56.34 L195.02,56.91 L195.43,57.47 L195.85,58.03 L196.26,58.60 L196.68,59.17 L197.10,59.74 L197.51,60.31 L197.93,60.88 L198.34,61.45 L198.76,62.02 L199.17,62.59 L199.59,63.16 L200.00,63.74 L200.42,64.31 L200.83,64.89 L201.25,65.46 L201.66,66.03 L202.08,66.61 L202.50,67.18 L202.91,67.76 L203.33,68.33 L203.74,68.90 L204.16,69.48 L204.57,70.05 L204.99,70.62 L205.40,71.20 L205.82,71.77 L206.23,72.34 L206.65,72.91 L207.07,73.48 L207.48,74.05 L207.90,74.61 L208.31,75.18 L208.73,75.75 L209.14,76.31 L209.56,76.88 L209.97,77.44 L210.39,78.00 L210.80,78.56 L211.22,79.12 L211.63,79.68 L212.05,80.23 L212.47,80.79 L212.88,81.34 L213.30,81.89 L213.71,82.44 L214.13,82.99 L214.54,83.54 L214.96,84.09 L215.37,84.63 L215.79,85.17 L216.20,85.71 L216.62,86.25 L217.03,86.79 L217.45,87.33 L217.87,87.86 L218.28,88.39 L218.70,88.92 L219.11,89.45 L219.53,89.97 L219.94,90.50 L220.36,91.02 L220.77,91.54 L221.19,92.06 L221.60,92.57 L222.02,93.09 L222.44,93.60 L222.85,94.11 L223.27,94.62 L223.68,95.12 L224.10,95.62 L224.51,96.13 L224.93,96.62 L225.34,97.12 L225.76,97.62 L226.17,98.11 L226.59,98.60 L227.00,99.08 L227.42,99.57 L227.84,100.05 L228.25,100.53 L228.67,101.01 L229.08,101.49 L229.50,101.96 L229.91,102.43 L230.33,102.90 L230.74,103.37 L231.16,103.83 L231.57,104.30 L231.99,104.76 L232.41,105.21 L232.82,105.67 L233.24,106.12 L233.65,106.57 L234.07,107.02 L234.48,107.47 L234.90,107.91 L235.31,108.35 L235.73,108.79 L236.14,109.23 L236.56,109.66 L236.97,110.09 L237.39,110.52 L237.81,110.95 L238.22,111.37 L238.64,111.80 L239.05,112.22 L239.47,112.63 L239.88,113.05 L240.30,113.46 L240.71,113.87 L241.13,114.28 L241.54,114.69 L241.96,115.09 L242.38,115.49 L242.79,115.89 L243.21,116.29 L243.62,116.68 L244.04,117.07 L244.45,117.47 L244.87,117.85 L245.28,118.24 L245.70,118.62 L246.11,119.00 L246.53,119.38 L246.94,119.76 L247.36,120.13 L247.78,120.50 L248.19,120.87 L248.61,121.24 L249.02,121.61 L249.44,121.97 L249.85,122.33 L250.27,122.69 L250.68,123.05 L251.10,123.40 L251.51,123.76 L251.93,124.11 L252.35,124.45 L252.76,124.80 L253.18,125.14 L253.59,125.49 L254.01,125.83 L254.42,126.16 L254.84,126.50 L255.25,126.83 L255.67,127.17 L256.08,127.50 L256.50,127.82 L256.91,128.15 L257.33,128.47 L257.75,128.79 L258.16,129.11 L258.58,129.43 L258.99,129.75 L259.41,130.06 L259.82,130.37 L260.24,130.68 L260.65,130.99 L261.07,131.30 L261.48,131.60 L261.90,131.90 L262.32,132.20 L262.73,132.50 L263.15,132.80 L263.56,133.09 L263.98,133.39 L264.39,133.68 L264.81,133.97 L265.22,134.26 L265.64,134.54 L266.05,134.83 L266.47,135.11 L266.88,135.39 L267.30,135.67 L267.72,135.94 L268.13,136.22 L268.55,136.49 L268.96,136.76 L269.38,137.03 L269.79,137.30 L270.21,137.57 L270.62,137.83 L271.04,138.10 L271.45,138.36 L271.87,138.62 L272.28,138.88 L272.70,139.14 L273.12,139.39 L273.53,139.64 L273.95,139.90 L274.36,140.15 L274.78,140.40 L275.19,140.64 L275.61,140.89 L276.02,141.13 L276.44,141.38 L276.85,141.62 L277.27,141.86 L277.69,142.10 L278.10,142.33 L278.52,142.57 L278.93,142.80 L279.35,143.03 L279.76,143.27 L280.18,143.49 L280.59,143.72 L281.01,143.95 L281.42,144.18 L281.84,144.40 L282.25,144.62 L282.67,144.84 L283.09,145.06 L283.50,145.28 L283.92,145.50 L284.33,145.71 L284.75,145.93 L285.16,146.14 L285.58,146.35 L285.99,146.56 L286.41,146.77 L286.82,146.98 L287.24,147.19 L287.66,147.39 L288.07,147.59 L288.49,147.80 L288.90,148.00 L289.32,148.20 L289.73,148.40 L290.15,148.60 L290.56,148.79 L290.98,148.99 L291.39,149.18 L291.81,149.37 L292.22,149.57 L292.64,149.76 L293.06,149.95 L293.47,150.13 L293.89,150.32 L294.30,150.51 L294.72,150.69 L295.13,150.88 L295.55,151.06 L295.96,151.24 L296.38,151.42 L296.79,151.60 L297.21,151.78 L297.63,151.96 L298.04,152.13 L298.46,152.31 L298.87,152.48 L299.29,152.65 L299.70,152.83 L300.12,153.00 L300.53,153.17 L300.95,153.33 L301.36,153.50 L301.78,153.67 L302.19,153.83 L302.61,154.00 L303.03,154.16 L303.44,154.33 L303.86,154.49 L304.27,154.65 L304.69,154.81 L305.10,154.97 L305.52,155.13 L305.93,155.28 L306.35,155.44 L306.76,155.59 L307.18,155.75 L307.60,155.90 L308.01,156.05 L308.43,156.21 L308.84,156.36 L309.26,156.51 L309.67,156.65 L310.09,156.80 L310.50,156.95 L310.92,157.10 L311.33,157.24 L311.75,157.39 L312.16,157.53 L312.58,157.67 L313.00,157.81 L313.41,157.96 L313.83,158.10 L314.24,158.24 L314.66,158.37 L315.07,158.51 L315.49,158.65 L315.90,158.79 L316.32,158.92 L316.73,159.06 L317.15,159.19 L317.57,159.32 L317.98,159.46 L318.40,159.59 L318.81,159.72 L319.23,159.85 L319.64,159.98 L320.06,160.11 L320.47,160.23 L320.89,160.36 L321.30,160.49 L321.72,160.61 L322.13,160.74 L322.55,160.86" stroke-width="2.3" stroke-dasharray="10.5 5"/>
<path d="M156.80,24.80 L157.22,24.80 L157.63,24.81 L158.05,24.83 L158.46,24.85 L158.88,24.88 L159.29,24.91 L159.71,24.95 L160.12,25.00 L160.54,25.05 L160.95,25.11 L161.37,25.18 L161.78,25.25 L162.20,25.33 L162.62,25.41 L163.03,25.50 L163.45,25.60 L163.86,25.70 L164.28,25.81 L164.69,25.93 L165.11,26.05 L165.52,26.17 L165.94,26.31 L166.35,26.45 L166.77,26.59 L167.19,26.74 L167.60,26.90 L168.02,27.06 L168.43,27.23 L168.85,27.41 L169.26,27.59 L169.68,27.77 L170.09,27.96 L170.51,28.16 L170.92,28.37 L171.34,28.58 L171.75,28.79 L172.17,29.01 L172.59,29.24 L173.00,29.47 L173.42,29.71 L173.83,29.95 L174.25,30.20 L174.66,30.45 L175.08,30.71 L175.49,30.97 L175.91,31.24 L176.32,31.52 L176.74,31.80 L177.16,32.08 L177.57,32.37 L177.99,32.67 L178.40,32.97 L178.82,33.28 L179.23,33.59 L179.65,33.90 L180.06,34.22 L180.48,34.55 L180.89,34.87 L181.31,35.21 L181.72,35.55 L182.14,35.89 L182.56,36.24 L182.97,36.59 L183.39,36.95 L183.80,37.31 L184.22,37.67 L184.63,38.04 L185.05,38.42 L185.46,38.79 L185.88,39.18 L186.29,39.56 L186.71,39.95 L187.13,40.35 L187.54,40.74 L187.96,41.15 L188.37,41.55 L188.79,41.96 L189.20,42.37 L189.62,42.79 L190.03,43.21 L190.45,43.63 L190.86,44.06 L191.28,44.49 L191.69,44.92 L192.11,45.36 L192.53,45.79 L192.94,46.24 L193.36,46.68 L193.77,47.13 L194.19,47.58 L194.60,48.03 L195.02,48.49 L195.43,48.95 L195.85,49.41 L196.26,49.88 L196.68,50.34 L197.10,50.81 L197.51,51.28 L197.93,51.76 L198.34,52.23 L198.76,52.71 L199.17,53.19 L199.59,53.67 L200.00,54.16 L200.42,54.64 L200.83,55.13 L201.25,55.62 L201.66,56.11 L202.08,56.61 L202.50,57.10 L202.91,57.60 L203.33,58.10 L203.74,58.59 L204.16,59.09 L204.57,59.60 L204.99,60.10 L205.40,60.60 L205.82,61.11 L206.23,61.61 L206.65,62.12 L207.07,62.63 L207.48,63.14 L207.90,63.65 L208.31,64.16 L208.73,64.67 L209.14,65.18 L209.56,65.69 L209.97,66.20 L210.39,66.72 L210.80,67.23 L211.22,67.74 L211.63,68.26 L212.05,68.77 L212.47,69.28 L212.88,69.80 L213.30,70.31 L213.71,70.82 L214.13,71.34 L214.54,71.85 L214.96,72.36 L215.37,72.88 L215.79,73.39 L216.20,73.90 L216.62,74.41 L217.03,74.93 L217.45,75.44 L217.87,75.95 L218.28,76.46 L218.70,76.96 L219.11,77.47 L219.53,77.98 L219.94,78.49 L220.36,78.99 L220.77,79.49 L221.19,80.00 L221.60,80.50 L222.02,81.00 L222.44,81.50 L222.85,82.00 L223.27,82.50 L223.68,82.99 L224.10,83.49 L224.51,83.98 L224.93,84.48 L225.34,84.97 L225.76,85.46 L226.17,85.94 L226.59,86.43 L227.00,86.91 L227.42,87.40 L227.84,87.88 L228.25,88.36 L228.67,88.84 L229.08,89.31 L229.50,89.79 L229.91,90.26 L230.33,90.73 L230.74,91.20 L231.16,91.67 L231.57,92.13 L231.99,92.59 L232.41,93.05 L232.82,93.51 L233.24,93.97 L233.65,94.42 L234.07,94.88 L234.48,95.33 L234.90,95.77 L235.31,96.22 L235.73,96.66 L236.14,97.10 L236.56,97.54 L236.97,97.98 L237.39,98.41 L237.81,98.84 L238.22,99.27 L238.64,99.70 L239.05,100.13 L239.47,100.55 L239.88,100.97 L240.30,101.39 L240.71,101.80 L241.13,102.21 L241.54,102.62 L241.96,103.03 L242.38,103.43 L242.79,103.84 L243.21,104.24 L243.62,104.63 L244.04,105.03 L244.45,105.42 L244.87,105.81 L245.28,106.20 L245.70,106.58 L246.11,106.96 L246.53,107.34 L246.94,107.72 L247.36,108.09 L247.78,108.46 L248.19,108.83 L248.61,109.20 L249.02,109.56 L249.44,109.92 L249.85,110.28 L250.27,110.63 L250.68,110.99 L251.10,111.34 L251.51,111.68 L251.93,112.03 L252.35,112.37 L252.76,112.71 L253.18,113.05 L253.59,113.38 L254.01,113.71 L254.42,114.04 L254.84,114.37 L255.25,114.69 L255.67,115.01 L256.08,115.33 L256.50,115.64 L256.91,115.96 L257.33,116.27 L257.75,116.58 L258.16,116.88 L258.58,117.18 L258.99,117.48 L259.41,117.78 L259.82,118.08 L260.24,118.37 L260.65,118.66 L261.07,118.95 L261.48,119.23 L261.90,119.52 L262.32,119.80 L262.73,120.07 L263.15,120.35 L263.56,120.62 L263.98,120.89 L264.39,121.16 L264.81,121.43 L265.22,121.69 L265.64,121.95 L266.05,122.21 L266.47,122.47 L266.88,122.72 L267.30,122.97 L267.72,123.22 L268.13,123.47 L268.55,123.72 L268.96,123.96 L269.38,124.20 L269.79,124.44 L270.21,124.68 L270.62,124.91 L271.04,125.14 L271.45,125.37 L271.87,125.60 L272.28,125.83 L272.70,126.05 L273.12,126.27 L273.53,126.49 L273.95,126.71 L274.36,126.93 L274.78,127.14 L275.19,127.35 L275.61,127.56 L276.02,127.77 L276.44,127.98 L276.85,128.18 L277.27,128.39 L277.69,128.59 L278.10,128.79 L278.52,128.99 L278.93,129.18 L279.35,129.38 L279.76,129.57 L280.18,129.76 L280.59,129.95 L281.01,130.14 L281.42,130.32 L281.84,130.51 L282.25,130.69 L282.67,130.87 L283.09,131.05 L283.50,131.23 L283.92,131.40 L284.33,131.58 L284.75,131.75 L285.16,131.93 L285.58,132.10 L285.99,132.27 L286.41,132.43 L286.82,132.60 L287.24,132.77 L287.66,132.93 L288.07,133.09 L288.49,133.26 L288.90,133.42 L289.32,133.58 L289.73,133.73 L290.15,133.89 L290.56,134.05 L290.98,134.20 L291.39,134.35 L291.81,134.51 L292.22,134.66 L292.64,134.81 L293.06,134.96 L293.47,135.10 L293.89,135.25 L294.30,135.40 L294.72,135.54 L295.13,135.69 L295.55,135.83 L295.96,135.97 L296.38,136.11 L296.79,136.25 L297.21,136.39 L297.63,136.53 L298.04,136.67 L298.46,136.80 L298.87,136.94 L299.29,137.07 L299.70,137.21 L300.12,137.34 L300.53,137.48 L300.95,137.61 L301.36,137.74 L301.78,137.87 L302.19,138.00 L302.61,138.13 L303.03,138.26 L303.44,138.38 L303.86,138.51 L304.27,138.64 L304.69,138.76 L305.10,138.89 L305.52,139.01 L305.93,139.14 L306.35,139.26 L306.76,139.38 L307.18,139.50 L307.60,139.63 L308.01,139.75 L308.43,139.87 L308.84,139.99 L309.26,140.11 L309.67,140.23 L310.09,140.34 L310.50,140.46 L310.92,140.58 L311.33,140.70 L311.75,140.81 L312.16,140.93 L312.58,141.05 L313.00,141.16 L313.41,141.28 L313.83,141.39 L314.24,141.50 L314.66,141.62 L315.07,141.73 L315.49,141.84 L315.90,141.96 L316.32,142.07 L316.73,142.18 L317.15,142.29 L317.57,142.40 L317.98,142.51 L318.40,142.62 L318.81,142.73 L319.23,142.84 L319.64,142.95 L320.06,143.06 L320.47,143.17 L320.89,143.27 L321.30,143.38 L321.72,143.49 L322.13,143.60 L322.55,143.70" stroke-width="2.8"/>
</g>
<circle cx="73.40" cy="58.70" r="4.1" fill="none" stroke="#000" stroke-width="1.4"/>
<circle cx="78.00" cy="80.50" r="4.1" fill="none" stroke="#000" stroke-width="1.4"/>
<circle cx="81.30" cy="112.40" r="4.1" fill="none" stroke="#000" stroke-width="1.4"/>
<circle cx="94.80" cy="148.50" r="4.1" fill="none" stroke="#000" stroke-width="1.4"/>
<circle cx="97.40" cy="156.00" r="4.1" fill="none" stroke="#000" stroke-width="1.4"/>
<circle cx="100.50" cy="164.70" r="4.1" fill="none" stroke="#000" stroke-width="1.4"/>
<rect x="48.40" y="4.60" width="10" height="10" fill="#000"/>
<rect x="68.50" y="69.60" width="10" height="10" fill="#000"/>
<rect x="72.80" y="89.20" width="10" height="10" fill="#000"/>
<rect x="77.40" y="101.60" width="10" height="10" fill="#000"/>
<rect x="81.00" y="113.50" width="10" height="10" fill="#000"/>
<rect x="85.00" y="124.70" width="10" height="10" fill="#000"/>
<rect x="88.30" y="132.70" width="10" height="10" fill="#000"/>
<rect x="91.20" y="151.50" width="10" height="10" fill="#000"/>
<rect x="93.90" y="157.50" width="10" height="10" fill="#000"/>
<rect x="96.10" y="163.50" width="10" height="10" fill="#000"/>
<rect x="98.20" y="166.80" width="10" height="10" fill="#000"/>
<path d="M174.60,239.00L179.80,234.20L185.00,239.00L179.80,243.80Z" fill="#000"/>
<path d="M200.10,243.40L205.30,238.60L210.50,243.40L205.30,248.20Z" fill="#000"/>
<path d="M225.20,249.00L230.40,244.20L235.60,249.00L230.40,253.80Z" fill="#000"/>
<path d="M249.40,250.60L254.60,245.80L259.80,250.60L254.60,255.40Z" fill="#000"/>
<path d="M271.30,251.50L276.50,246.70L281.70,251.50L276.50,256.30Z" fill="#000"/>
<path d="M291.60,251.80L296.80,247.00L302.00,251.80L296.80,256.60Z" fill="#000"/>
<circle cx="209.80" cy="57.60" r="3.0" fill="none" stroke="#000" stroke-width="1.25"/>
<circle cx="220.50" cy="72.40" r="3.0" fill="none" stroke="#000" stroke-width="1.25"/>
<circle cx="229.90" cy="93.30" r="3.0" fill="none" stroke="#000" stroke-width="1.25"/>
<circle cx="266.00" cy="118.20" r="3.0" fill="none" stroke="#000" stroke-width="1.25"/>
<circle cx="274.00" cy="123.00" r="3.0" fill="none" stroke="#000" stroke-width="1.25"/>
<circle cx="282.20" cy="128.80" r="3.0" fill="none" stroke="#000" stroke-width="1.25"/>
<rect x="153.20" y="21.50" width="7.6" height="7.6" fill="#000"/>
<rect x="207.40" y="64.40" width="7.6" height="7.6" fill="#000"/>
<rect x="219.10" y="78.20" width="7.6" height="7.6" fill="#000"/>
<rect x="229.20" y="86.20" width="7.6" height="7.6" fill="#000"/>
<rect x="239.40" y="94.20" width="7.6" height="7.6" fill="#000"/>
<rect x="248.60" y="102.20" width="7.6" height="7.6" fill="#000"/>
<rect x="258.20" y="106.90" width="7.6" height="7.6" fill="#000"/>
<rect x="266.00" y="120.00" width="7.6" height="7.6" fill="#000"/>
<rect x="273.50" y="124.10" width="7.6" height="7.6" fill="#000"/>
<rect x="279.50" y="128.10" width="7.6" height="7.6" fill="#000"/>
<rect x="284.70" y="129.90" width="7.6" height="7.6" fill="#000"/>
<g font-family="Liberation Sans, Arial, Helvetica, sans-serif" fill="#000">
<text transform="translate(49.02,276.50) scale(1.0815,1)" font-size="14.6" font-weight="bold" stroke="#000" stroke-width="0.7" stroke-linejoin="round">0</text>
<text transform="translate(90.50,276.50) scale(1.0702,1)" font-size="14.6" font-weight="bold" stroke="#000" stroke-width="0.7" stroke-linejoin="round">2</text>
<text transform="translate(132.24,276.50) scale(0.9602,1)" font-size="14.6" font-weight="bold" stroke="#000" stroke-width="0.7" stroke-linejoin="round">4</text>
<text transform="translate(173.31,276.50) scale(1.0592,1)" font-size="14.6" font-weight="bold" stroke="#000" stroke-width="0.7" stroke-linejoin="round">6</text>
<text transform="translate(214.80,276.50) scale(1.0378,1)" font-size="14.6" font-weight="bold" stroke="#000" stroke-width="0.7" stroke-linejoin="round">8</text>
<text transform="translate(251.20,276.50) scale(1.1109,1)" font-size="14.6" font-weight="bold" stroke="#000" stroke-width="0.7" stroke-linejoin="round">10</text>
<text transform="translate(292.60,276.50) scale(1.1109,1)" font-size="14.6" font-weight="bold" stroke="#000" stroke-width="0.7" stroke-linejoin="round">12</text>
<text transform="translate(38.42,262.70) scale(1.0815,1)" font-size="14.6" font-weight="bold" stroke="#000" stroke-width="0.7" stroke-linejoin="round">0</text>
<text transform="translate(27.07,212.90) scale(0.9882,1)" font-size="14.6" font-weight="bold" stroke="#000" stroke-width="0.7" stroke-linejoin="round">0.2</text>
<text transform="translate(27.09,163.10) scale(0.9625,1)" font-size="14.6" font-weight="bold" stroke="#000" stroke-width="0.7" stroke-linejoin="round">0.4</text>
<text transform="translate(27.08,113.30) scale(0.9844,1)" font-size="14.6" font-weight="bold" stroke="#000" stroke-width="0.7" stroke-linejoin="round">0.6</text>
<text transform="translate(27.08,63.50) scale(0.9807,1)" font-size="14.6" font-weight="bold" stroke="#000" stroke-width="0.7" stroke-linejoin="round">0.8</text>
<text transform="translate(38.78,12.40) scale(0.7070,1)" font-size="14.6" font-weight="bold" stroke="#000" stroke-width="0.7" stroke-linejoin="round">1</text>
<text transform="translate(152.87,204.00) scale(1.0841,1)" font-size="13.4" font-weight="bold" stroke="#000" stroke-width="0.7" stroke-linejoin="round">0</text>
<text transform="translate(175.56,204.00) scale(0.9518,1)" font-size="13.4" font-weight="bold" stroke="#000" stroke-width="0.7" stroke-linejoin="round">0.5</text>
<text transform="translate(209.40,204.00) scale(0.6901,1)" font-size="13.4" font-weight="bold" stroke="#000" stroke-width="0.7" stroke-linejoin="round">1</text>
<text transform="translate(230.48,204.00) scale(0.9701,1)" font-size="13.4" font-weight="bold" stroke="#000" stroke-width="0.7" stroke-linejoin="round">1.5</text>
<text transform="translate(263.45,204.00) scale(1.0728,1)" font-size="13.4" font-weight="bold" stroke="#000" stroke-width="0.7" stroke-linejoin="round">2</text>
<text transform="translate(286.13,204.00) scale(0.9483,1)" font-size="13.4" font-weight="bold" stroke="#000" stroke-width="0.7" stroke-linejoin="round">2.5</text>
<text transform="translate(318.85,204.00) scale(1.0403,1)" font-size="13.4" font-weight="bold" stroke="#000" stroke-width="0.7" stroke-linejoin="round">3</text>
<text transform="translate(144.97,193.70) scale(1.0841,1)" font-size="13.4" font-weight="bold" stroke="#000" stroke-width="0.7" stroke-linejoin="round">0</text>
<text transform="translate(133.59,160.44) scale(1.0425,1)" font-size="13.4" font-weight="bold" stroke="#000" stroke-width="0.7" stroke-linejoin="round">0.2</text>
<text transform="translate(133.61,127.18) scale(1.0154,1)" font-size="13.4" font-weight="bold" stroke="#000" stroke-width="0.7" stroke-linejoin="round">0.4</text>
<text transform="translate(133.59,93.92) scale(1.0385,1)" font-size="13.4" font-weight="bold" stroke="#000" stroke-width="0.7" stroke-linejoin="round">0.6</text>
<text transform="translate(133.60,60.66) scale(1.0346,1)" font-size="13.4" font-weight="bold" stroke="#000" stroke-width="0.7" stroke-linejoin="round">0.8</text>
<text transform="translate(145.45,28.00) scale(0.7680,1)" font-size="14.0" font-weight="bold" stroke="#000" stroke-width="0.7" stroke-linejoin="round">1</text>
<text transform="translate(74.37,294.90) scale(0.9834,1)" font-size="20.0" font-weight="bold" stroke="#000" stroke-width="0.7" stroke-linejoin="round">Magnification</text>
<text transform="translate(208.06,294.70) scale(0.9777,1)" font-size="20.0" font-weight="bold" stroke="#000" stroke-width="0.7" stroke-linejoin="round">factor,</text>
<text transform="translate(268.03,294.70) scale(0.8214,1)" font-size="20.0" font-weight="bold" stroke="#000" stroke-width="0.7" stroke-linejoin="round">(</text>
<text transform="translate(274.96,294.70) scale(0.9846,1)" font-size="20.0" font-weight="bold" font-style="italic" stroke="#000" stroke-width="0.7" stroke-linejoin="round">qR</text>
<text transform="translate(301.75,298.00) scale(0.8341,1)" font-size="13.5" font-weight="bold" font-style="italic" stroke="#000" stroke-width="0.7" stroke-linejoin="round">g</text>
<text transform="translate(311.17,294.70) scale(0.8214,1)" font-size="20.0" font-weight="bold" stroke="#000" stroke-width="0.7" stroke-linejoin="round">)</text>
<text transform="translate(16.90,231.17) rotate(-90) scale(1.0273,1)" font-size="20.0" font-weight="bold" stroke="#000" stroke-width="0.7" stroke-linejoin="round">Shape</text>
<text transform="translate(16.90,164.64) rotate(-90) scale(0.9745,1)" font-size="20.0" font-weight="bold" stroke="#000" stroke-width="0.7" stroke-linejoin="round">factor</text>
<text transform="translate(16.90,105.16) rotate(-90) scale(0.7143,1)" font-size="20.0" font-weight="bold" stroke="#000" stroke-width="0.7" stroke-linejoin="round">(</text>
<text transform="translate(16.90,99.15) rotate(-90) scale(0.9211,1)" font-size="20.0" font-weight="bold" stroke="#000" stroke-width="0.7" stroke-linejoin="round">P</text>
<text transform="translate(20.30,85.30) rotate(-90) scale(0.8522,1)" font-size="13.5" font-weight="bold" font-style="italic" stroke="#000" stroke-width="0.7" stroke-linejoin="round">q</text>
<text transform="translate(16.90,76.02) rotate(-90) scale(0.6786,1)" font-size="20.0" font-weight="bold" stroke="#000" stroke-width="0.7" stroke-linejoin="round">)</text>
</g>
<g font-family="Liberation Sans, Arial, Helvetica, sans-serif" fill="#000">
<text transform="translate(173.01,216.50) scale(1.0567,1)" font-size="11.5" font-weight="bold" stroke="#000" stroke-width="0.4" stroke-linejoin="round">Magnification</text>
<text transform="translate(255.82,216.50) scale(1.0245,1)" font-size="11.5" font-weight="bold" stroke="#000" stroke-width="0.4" stroke-linejoin="round">factor</text>
<text transform="translate(292.45,216.50) scale(0.9627,1)" font-size="11.5" font-weight="bold" stroke="#000" stroke-width="0.4" stroke-linejoin="round">(</text>
<text transform="translate(296.82,216.50) scale(1.1012,1)" font-size="11.5" font-weight="bold" font-style="italic" stroke="#000" stroke-width="0.4" stroke-linejoin="round">qR</text>
<text transform="translate(314.50,218.10) scale(0.8182,1)" font-size="7.6" font-weight="bold" font-style="italic" stroke="#000" stroke-width="0.4" stroke-linejoin="round">g</text>
<text transform="translate(319.06,216.50) scale(0.7143,1)" font-size="11.5" font-weight="bold" stroke="#000" stroke-width="0.4" stroke-linejoin="round">)</text>
<text transform="translate(127.7,148.9) rotate(-90)" font-size="12.55" font-weight="bold" stroke="#000" stroke-width="0.4">Shape factor (P<tspan font-style="italic" font-size="8.2" dy="2.4" dx="0.4">q</tspan><tspan dy="-2.4" dx="0.4">)</tspan></text>
</g>
<g font-family="Liberation Sans, Arial, Helvetica, sans-serif" fill="#000">
<text transform="translate(389.08,111.90) scale(0.9995,1)" font-size="15.6" stroke="#000" stroke-width="0.25" stroke-linejoin="round">Rod</text>
<text transform="translate(389.03,129.30) scale(1.0387,1)" font-size="15.6" stroke="#000" stroke-width="0.25" stroke-linejoin="round">Polydispersed coil</text>
<text transform="translate(389.61,146.30) scale(1.0213,1)" font-size="15.6" stroke="#000" stroke-width="0.25" stroke-linejoin="round">Sphere</text>
<text transform="translate(389.03,163.70) scale(1.0384,1)" font-size="15.6" stroke="#000" stroke-width="0.25" stroke-linejoin="round">No shear</text>
<text transform="translate(389.51,180.90) scale(1.0438,1)" font-size="15.6" stroke="#000" stroke-width="0.25" stroke-linejoin="round">2155/s for 30s</text>
<text transform="translate(389.51,197.90) scale(1.0397,1)" font-size="15.6" stroke="#000" stroke-width="0.25" stroke-linejoin="round">6000/s for 120s</text>
</g>
<g stroke="#000" fill="none">
<path d="M344,105.7H384.2" stroke-width="1.7"/>
<path d="M353.1,123.3H363.9M372.1,123.3H382.9" stroke-width="1.9"/>
<path d="M344,140.1H383.8" stroke-width="1.9" stroke-dasharray="1.6 1.06"/>
</g>
<circle cx="365.20" cy="158.10" r="4.6" fill="none" stroke="#000" stroke-width="1.1"/>
<rect x="360.00" y="170.00" width="10.6" height="10.6" fill="#000"/>
<path d="M359.60,191.60L365.30,185.90L371.00,191.60L365.30,197.30Z" fill="#000"/>
</svg>
</body></html>
